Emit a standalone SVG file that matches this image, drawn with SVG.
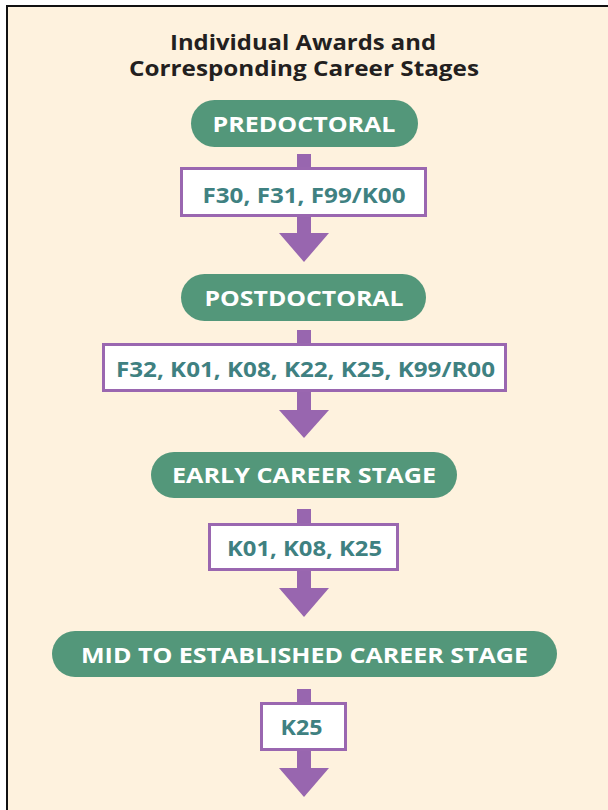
<svg xmlns="http://www.w3.org/2000/svg" width="608" height="810" viewBox="0 0 608 810">
<style>
.pill{fill:#53977A;}
.box{fill:#FFFFFF;stroke:#9A67B0;stroke-width:3;}
.ptxt{font-family:"Open Sans","Liberation Sans",sans-serif;font-weight:700;font-size:22px;fill:#FFFFFF;text-anchor:middle;}
.btxt{font-family:"Open Sans","Liberation Sans",sans-serif;font-weight:700;font-size:22px;fill:#3F8181;text-anchor:middle;}
.ttl{font-family:"Open Sans","Liberation Sans",sans-serif;font-weight:700;font-size:21.5px;fill:#231F20;text-anchor:middle;}
.arr{fill:#9866AF;}
</style>
<rect x="0" y="0" width="608" height="810" fill="#FFFFFF"/>
<rect x="7" y="6" width="601" height="804" fill="#FEF2DE"/>
<line x1="6" y1="6" x2="608" y2="6" stroke="#111111" stroke-width="2"/>
<line x1="7" y1="5" x2="7" y2="810" stroke="#111111" stroke-width="2"/>
<g id="title">
<text class="ttl" x="303" y="49.5" textLength="266" lengthAdjust="spacingAndGlyphs">Individual Awards and</text>
<text class="ttl" x="304" y="76" textLength="350" lengthAdjust="spacingAndGlyphs">Corresponding Career Stages</text>
</g>
<g id="connectors">
<rect class="arr" x="297" y="154" width="14" height="15"/>
<rect class="arr" x="297" y="215" width="14" height="20"/>
<polygon class="arr" points="279,233 329,233 304,262"/>
<rect class="arr" x="297" y="330" width="14" height="15"/>
<rect class="arr" x="297" y="390" width="14" height="22"/>
<polygon class="arr" points="279,410 329,410 304,438"/>
<rect class="arr" x="297" y="509" width="14" height="16"/>
<rect class="arr" x="297" y="569" width="14" height="21"/>
<polygon class="arr" points="279,588 329,588 304,617"/>
<rect class="arr" x="297" y="689" width="14" height="15"/>
<rect class="arr" x="297" y="749" width="14" height="21"/>
<polygon class="arr" points="279,768 329,768 304,797"/>
</g>
<g id="predoctoral">
<rect class="pill" x="191" y="100" width="227" height="47" rx="23.5"/>
<text class="ptxt" x="304" y="131.5" textLength="183" lengthAdjust="spacingAndGlyphs">PREDOCTORAL</text>
</g>
<g id="predoc-awards">
<rect class="box" x="181.5" y="168.5" width="244" height="47"/>
<text class="btxt" x="304" y="202.5" textLength="203" lengthAdjust="spacingAndGlyphs">F30, F31, F99/K00</text>
</g>
<g id="postdoctoral">
<rect class="pill" x="181" y="274" width="245" height="47" rx="23.5"/>
<text class="ptxt" x="304" y="305.5" textLength="199" lengthAdjust="spacingAndGlyphs">POSTDOCTORAL</text>
</g>
<g id="postdoc-awards">
<rect class="box" x="103.5" y="344.5" width="402" height="46"/>
<text class="btxt" x="305.5" y="377" textLength="379" lengthAdjust="spacingAndGlyphs">F32, K01, K08, K22, K25, K99/R00</text>
</g>
<g id="early-career">
<rect class="pill" x="151" y="452" width="306" height="46" rx="23"/>
<text class="ptxt" x="304" y="482.5" textLength="264" lengthAdjust="spacingAndGlyphs">EARLY CAREER STAGE</text>
</g>
<g id="early-awards">
<rect class="box" x="209.5" y="524.5" width="188" height="45"/>
<text class="btxt" x="304.5" y="556" textLength="155" lengthAdjust="spacingAndGlyphs">K01, K08, K25</text>
</g>
<g id="mid-established">
<rect class="pill" x="52" y="631" width="505" height="46" rx="23"/>
<text class="ptxt" x="304.5" y="662.5" textLength="447" lengthAdjust="spacingAndGlyphs">MID TO ESTABLISHED CAREER STAGE</text>
</g>
<g id="mid-awards">
<rect class="box" x="261.5" y="703.5" width="84" height="46"/>
<text class="btxt" x="301.5" y="734.5" textLength="42" lengthAdjust="spacingAndGlyphs">K25</text>
</g>
</svg>
